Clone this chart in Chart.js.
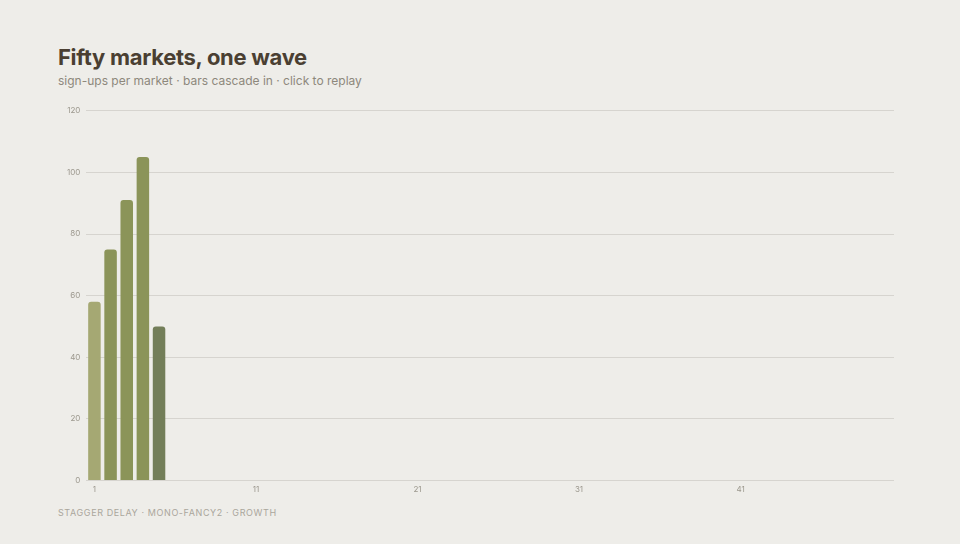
<!DOCTYPE html>
<html>
<head>
<meta charset="utf-8">
<script src="https://cdn.jsdelivr.net/npm/chart.js@4/dist/chart.umd.min.js"></script>
<style>
  html, body {
    margin: 0;
    padding: 0;
    width: 960px;
    height: 544px;
    background: #eeede9;
    font-family: Inter, "Noto Sans", sans-serif;
    overflow: hidden;
  }
  h1 {
    position: absolute;
    left: 58px;
    top: 44px;
    margin: 0;
    font-size: 22px;
    font-weight: 700;
    letter-spacing: -0.3px;
    color: #4a3f32;
  }
  .sub {
    position: absolute;
    left: 58px;
    top: 73px;
    font-size: 12px;
    color: #8d887c;
  }
  .foot {
    position: absolute;
    left: 58px;
    top: 507px;
    font-size: 9px;
    letter-spacing: 0.6px;
    color: #aaa69c;
  }
  .wrap {
    position: absolute;
    left: 61px;
    top: 100px;
    width: 839px;
    height: 398px;
  }
</style>
</head>
<body>
<h1>Fifty markets, one wave</h1>
<div class="sub">sign-ups per market · bars cascade in · click to replay</div>
<div class="wrap"><canvas id="chart"></canvas></div>
<div class="foot">STAGGER DELAY · MONO-FANCY2 · GROWTH</div>

<script>
const markets = [
  "1", "2", "3", "4", "5", "6", "7", "8", "9", "10",
  "11", "12", "13", "14", "15", "16", "17", "18", "19", "20",
  "21", "22", "23", "24", "25", "26", "27", "28", "29", "30",
  "31", "32", "33", "34", "35", "36", "37", "38", "39", "40",
  "41", "42", "43", "44", "45", "46", "47", "48", "49", "50",
];

// only the first five bars had landed when the picture was taken
const signups = [
  58, 75, 91, 105, 50, null, null, null, null, null,
  null, null, null, null, null, null, null, null, null, null,
  null, null, null, null, null, null, null, null, null, null,
  null, null, null, null, null, null, null, null, null, null,
  null, null, null, null, null, null, null, null, null, null,
];

const yTicks = [0, 20, 40, 60, 80, 100, 120];

const palette = ["#a5a873", "#8b9459", "#8b9459", "#8b9459", "#737e59"];

const ctx = document.getElementById("chart");

const chart = new Chart(ctx, {
  type: "bar",
  data: {
    labels: markets,
    datasets: [
      {
        label: "sign-ups",
        data: signups,
        backgroundColor: (c) => palette[c.dataIndex % palette.length],
        borderRadius: { topLeft: 3, topRight: 3 },
        borderSkipped: "bottom",
        categoryPercentage: 0.86,
        barPercentage: 0.9,
      },
    ],
  },
  options: {
    responsive: true,
    maintainAspectRatio: false,
    animation: false,
    layout: { padding: { top: 4, right: 6, bottom: 0, left: 0 } },
    plugins: {
      legend: { display: false },
      tooltip: { enabled: false },
    },
    scales: {
      x: {
        grid: { display: false, drawTicks: false },
        border: { display: false },
        ticks: {
          autoSkip: false,
          maxRotation: 0,
          color: "#9c988e",
          font: { family: "Inter", size: 8 },
          padding: 4,
          callback: (v, i) => (i % 10 === 0 ? markets[i] : ""),
        },
      },
      y: {
        min: 0,
        max: 120,
        afterBuildTicks: (axis) => {
          axis.ticks = yTicks.map((v) => ({ value: v }));
        },
        grid: { color: "#d6d4cf", lineWidth: 1, drawTicks: false },
        border: { display: false },
        ticks: {
          color: "#9c988e",
          font: { family: "Inter", size: 8 },
          padding: 6,
        },
      },
    },
  },
});
</script>
</body>
</html>
